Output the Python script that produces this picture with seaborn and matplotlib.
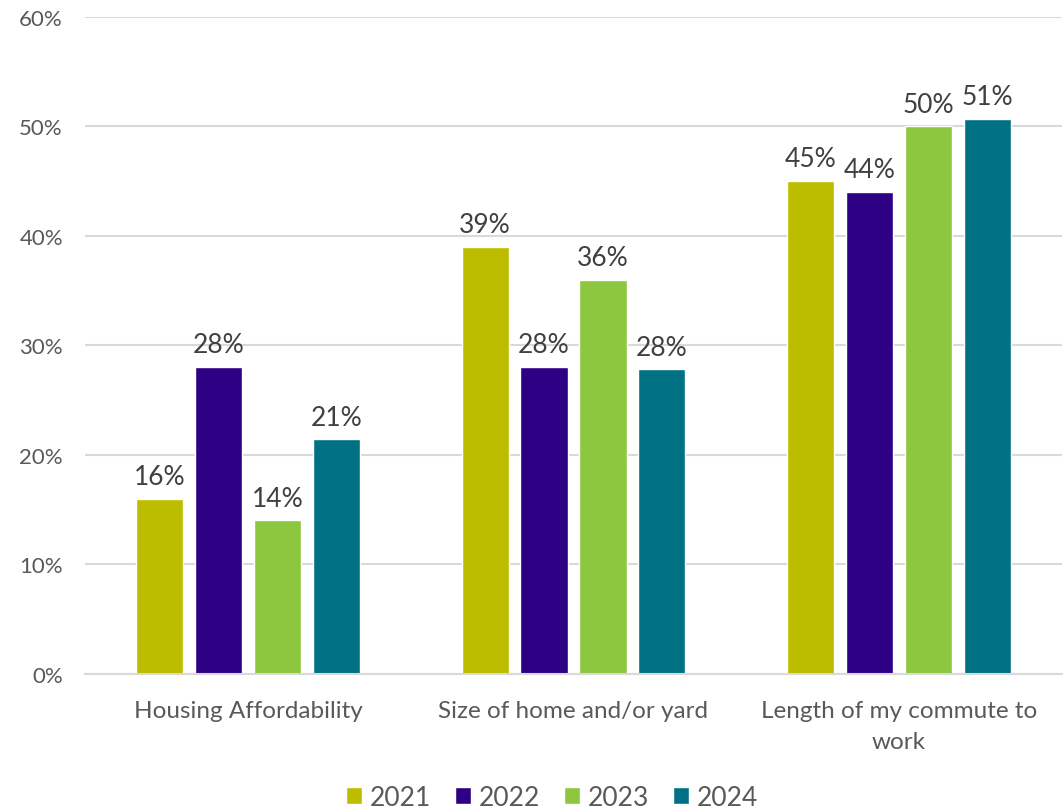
import textwrap
import pandas as pd
import matplotlib.pyplot as plt
import seaborn as sns

categories = ["Housing Affordability", "Size of home and/or yard", "Length of my commute to work"]
years = ["2021", "2022", "2023", "2024"]
v2021 = [16, 39, 45]
v2022 = [28, 28, 44]
v2023 = [14, 36, 50]
v2024 = [21.4, 27.8, 50.7]
colors = ["#BDBD00", "#2E0083", "#8DC63F", "#007083"]

rows = []
for year, vals in zip(years, [v2021, v2022, v2023, v2024]):
    for cat, v in zip(categories, vals):
        rows.append({"Category": cat, "Year": year, "Value": v})
df = pd.DataFrame(rows)

sns.set_style("white")
plt.rcParams['font.family'] = ['Lato', 'DejaVu Sans']

fig = plt.figure(figsize=(10.64, 8.12), dpi=100)
ax = fig.add_axes([0.08, 0.169, 0.918, 0.809])

sns.barplot(data=df, x="Category", y="Value", hue="Year", order=categories,
            hue_order=years, palette=colors, width=0.724, gap=0.2,
            saturation=1, ax=ax, legend=True)

for cont in ax.containers:
    ax.bar_label(cont, labels=[f"{round(b.get_height()):.0f}%" for b in cont],
                 padding=7, fontsize=19, color="#404040")

ax.set_ylim(0, 60)
ax.set_xlim(-0.5, 2.5)
ax.set_yticks(range(0, 61, 10))
ax.set_yticklabels([f"{t}%" for t in range(0, 61, 10)], fontsize=16, color="#595959")
ax.set_xticks(range(len(categories)))
ax.set_xticklabels([textwrap.fill(c, 24) for c in categories], fontsize=17.5,
                   color="#595959", linespacing=1.6)
ax.tick_params(axis="x", length=0, pad=19)
ax.tick_params(axis="y", length=0, pad=16)
ax.yaxis.grid(True, color="#D9D9D9", linewidth=1.5)
ax.set_axisbelow(True)
for s in ["top", "right", "left"]:
    ax.spines[s].set_visible(False)
ax.spines["bottom"].set_color("#D9D9D9")
ax.spines["bottom"].set_linewidth(1.5)
ax.set_xlabel("")
ax.set_ylabel("")

ax.legend(loc="lower center", bbox_to_anchor=(0.478, -0.243), ncol=4, frameon=False,
          fontsize=19, handlelength=0.6, handleheight=0.6, handletextpad=0.3,
          columnspacing=0.9, labelcolor="#595959")

fig.savefig("out.png", dpi=100)
